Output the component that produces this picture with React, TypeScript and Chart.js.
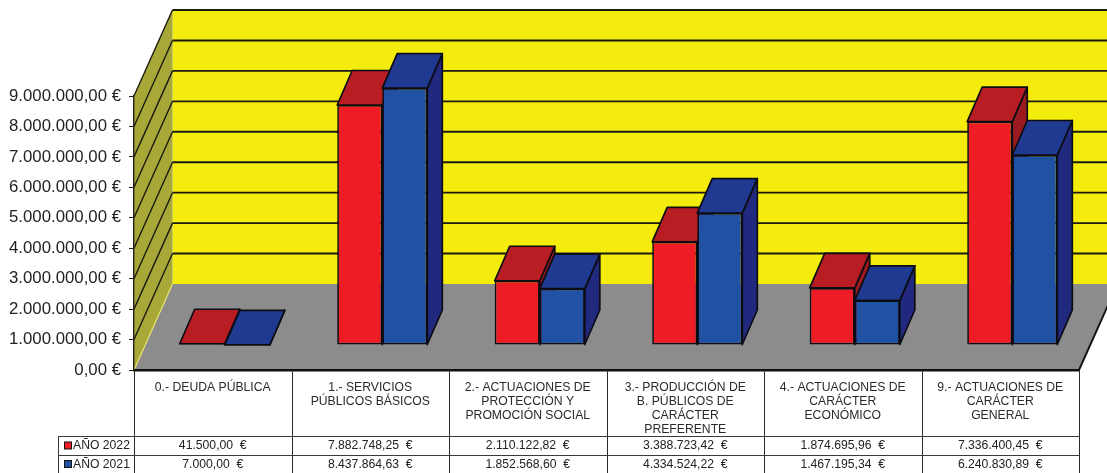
import React, { useEffect, useRef } from "react";
import { Chart, registerables } from "chart.js";

Chart.register(...registerables);

const categories: string[][] = [
  ["0.- DEUDA PÚBLICA"],
  ["1.- SERVICIOS", "PÚBLICOS BÁSICOS"],
  ["2.- ACTUACIONES DE", "PROTECCIÓN Y", "PROMOCIÓN SOCIAL"],
  ["3.- PRODUCCIÓN DE", "B. PÚBLICOS DE", "CARÁCTER", "PREFERENTE"],
  ["4.- ACTUACIONES DE", "CARÁCTER", "ECONÓMICO"],
  ["9.- ACTUACIONES DE", "CARÁCTER", "GENERAL"],
];
const year2022 = [41500.0, 7882748.25, 2110122.82, 3388723.42, 1874695.96, 7336400.45];
const year2021 = [7000.0, 8437864.63, 1852568.6, 4334524.22, 1467195.34, 6240830.89];

const FONT = '"Liberation Sans", Arial, sans-serif';
const WALL = { dx: 38.5, dy: -86 };
const PLANE = { dx: 12, dy: -25 };
const BAR_DEPTH = { dx: 15, dy: -34.5 };
const EDGE = "#0c0c14";
const EDGE_WIDTH = 1.7;
const SHADES: Record<string, { top: string; side: string }> = {
  red: { top: "#b81d24", side: "#9a1a20" },
  blue: { top: "#1f3a90", side: "#21297f" },
};

const euro = (v: number) =>
  v.toLocaleString("de-DE", { minimumFractionDigits: 2, maximumFractionDigits: 2 });

function poly(ctx: CanvasRenderingContext2D, pts: number[][], fill: string, stroke?: string, lw = 1) {
  ctx.beginPath();
  pts.forEach(([x, y], i) => (i ? ctx.lineTo(x, y) : ctx.moveTo(x, y)));
  ctx.closePath();
  ctx.fillStyle = fill;
  ctx.fill();
  if (stroke) {
    ctx.strokeStyle = stroke;
    ctx.lineWidth = lw;
    ctx.lineJoin = "round";
    ctx.stroke();
  }
}

function line(ctx: CanvasRenderingContext2D, x1: number, y1: number, x2: number, y2: number, color: string, lw: number) {
  ctx.beginPath();
  ctx.moveTo(x1, y1);
  ctx.lineTo(x2, y2);
  ctx.strokeStyle = color;
  ctx.lineWidth = lw;
  ctx.stroke();
}

// Side and top faces of every bar in one series.
function drawDepthFaces(chart: any, meta: any) {
  const { ctx } = chart;
  const shade = SHADES[chart.data.datasets[meta.index].shade];
  const { dx, dy } = BAR_DEPTH;
  meta.data.forEach((bar: any) => {
    const l = bar.x - bar.width / 2;
    const r = bar.x + bar.width / 2;
    poly(ctx, [[r, bar.y], [r + dx, bar.y + dy], [r + dx, bar.base + dy], [r, bar.base]], shade.side, EDGE, EDGE_WIDTH);
    poly(ctx, [[l, bar.y], [l + dx, bar.y + dy], [r + dx, bar.y + dy], [r, bar.y]], shade.top, EDGE, EDGE_WIDTH);
  });
}

const roomPlugin = {
  id: "room",
  // Left wall, back wall, floor and the gridlines running over the walls.
  beforeDraw(chart: any) {
    const { ctx, chartArea: a, scales } = chart;
    const y = scales.y;
    ctx.save();
    ctx.fillStyle = "#ffffff";
    ctx.fillRect(0, 0, chart.width, chart.height);
    const bx = a.left + WALL.dx;
    const top = a.top + WALL.dy;
    const floorBack = a.bottom + WALL.dy;
    poly(ctx, [[bx, top], [chart.width + 20, top], [chart.width + 20, floorBack], [bx, floorBack]], "#f4ec0c");
    poly(ctx, [[a.left, a.top], [bx, top], [bx, floorBack], [a.left, a.bottom]], "#a8a838");
    poly(ctx, [[a.left, a.bottom], [bx, floorBack], [a.right + WALL.dx, floorBack], [a.right, a.bottom]], "#8c8c8c");
    line(ctx, a.left, a.top, bx, top, "#e8e46a", 1);
    line(ctx, a.left, a.bottom, bx, floorBack, "#e8e46a", 1.2);
    line(ctx, a.right, a.bottom, a.right + WALL.dx, floorBack, "#111111", 1.9);
    y.ticks.forEach((t: any) => {
      if (t.value === 0) return;
      const py = y.getPixelForValue(t.value);
      line(ctx, a.left, py, bx, py + WALL.dy, "#1a1a10", 1.4);
      line(ctx, bx, py + WALL.dy, chart.width + 20, py + WALL.dy, "#1a1a10", 1.9);
    });
    ctx.restore();
  },
  // Bars sit on a plane set back from the front axis, so the library's bars are drawn shifted.
  beforeDatasetsDraw(chart: any) {
    chart.ctx.save();
    chart.ctx.translate(PLANE.dx, PLANE.dy);
  },
  afterDatasetsDraw(chart: any) {
    chart.ctx.restore();
  },
  // The library paints the last series first; here the second series waits so that
  // it lands over the first one's side faces.
  beforeDatasetDraw(chart: any, args: any) {
    if (args.index === 1) return false;
    drawDepthFaces(chart, args.meta);
    return true;
  },
  afterDatasetDraw(chart: any, args: any) {
    if (args.index !== 0) return;
    const second = chart.getDatasetMeta(1);
    drawDepthFaces(chart, second);
    second.controller.draw();
  },
  // Data table under the category labels, with the legend keys in its first column.
  afterDraw(chart: any) {
    const { ctx, chartArea: a, scales } = chart;
    const x = scales.x;
    const step = (a.right - a.left) / categories.length;
    const rows = [436, 455, 473];
    const headLeft = 58;
    ctx.save();
    for (let i = 0; i <= categories.length; i++) {
      const px = Math.round(a.left + i * step) + 0.5;
      line(ctx, px, a.bottom, px, 473, "#2a2a2a", 1);
    }
    rows.forEach((r) => line(ctx, headLeft, r + 0.5, a.right + 1, r + 0.5, "#3a3a3a", 1));
    line(ctx, headLeft + 0.5, rows[0], headLeft + 0.5, 473, "#3a3a3a", 1);
    ctx.font = `12.2px ${FONT}`;
    ctx.textBaseline = "middle";
    chart.data.datasets.forEach((ds: any, d: number) => {
      const cy = (rows[d] + rows[d + 1]) / 2 + 0.5;
      ctx.fillStyle = ds.backgroundColor;
      ctx.strokeStyle = "#111111";
      ctx.lineWidth = 1;
      ctx.fillRect(64.5, cy - 4, 7, 7);
      ctx.strokeRect(64.5, cy - 4, 7, 7);
      ctx.fillStyle = "#222222";
      ctx.textAlign = "left";
      ctx.fillText(ds.label, 73, cy);
      ctx.textAlign = "center";
      ds.data.forEach((v: number, i: number) => {
        ctx.fillText(`${euro(v)}  €`, x.getPixelForValue(i), cy);
      });
    });
    ctx.restore();
  },
};

export default function App() {
  const ref = useRef<HTMLCanvasElement>(null);
  useEffect(() => {
    const chart = new Chart(ref.current!, {
      type: "bar",
      data: {
        labels: categories as any,
        datasets: [
          { label: "AÑO 2022", data: year2022, backgroundColor: "#ee1c25", shade: "red" },
          { label: "AÑO 2021", data: year2021, backgroundColor: "#2151a3", shade: "blue" },
        ] as any,
      },
      plugins: [roomPlugin],
      options: {
        animation: false,
        responsive: false,
        layout: { padding: { top: 96, right: 28, left: 0, bottom: 0 } },
        datasets: {
          bar: {
            categoryPercentage: 0.572,
            barPercentage: 1,
            borderColor: EDGE,
            borderWidth: EDGE_WIDTH,
            borderSkipped: false,
            clip: false,
          },
        } as any,
        plugins: { legend: { display: false }, tooltip: { enabled: false }, title: { display: false } },
        scales: {
          x: {
            afterFit: (s: any) => {
              s.height = 103;
            },
            grid: { display: false },
            border: { display: true, color: "#111111", width: 2.4 },
            ticks: {
              autoSkip: false,
              maxRotation: 0,
              padding: 2,
              color: "#2a2a2a",
              font: { family: FONT, size: 12.2, lineHeight: 1.17 },
            },
          },
          y: {
            min: 0,
            max: 9000000,
            afterFit: (s: any) => {
              s.width = 134;
            },
            grid: { drawOnChartArea: false, drawTicks: true, tickLength: 5, color: "#222222" },
            border: { display: true, color: "#222218", width: 1.4 },
            ticks: {
              stepSize: 1000000,
              padding: 8,
              color: "#222222",
              font: { family: FONT, size: 16.8 },
              callback: (v: any) => `${euro(Number(v))} €`,
            },
          },
        },
      },
    } as any);
    return () => chart.destroy();
  }, []);
  return (
    <div style={{ position: "absolute", left: 0, top: 0, width: 1107, height: 473, overflow: "hidden", background: "#fff" }}>
      <canvas ref={ref} width={1107} height={473} style={{ display: "block" }} />
    </div>
  );
}
